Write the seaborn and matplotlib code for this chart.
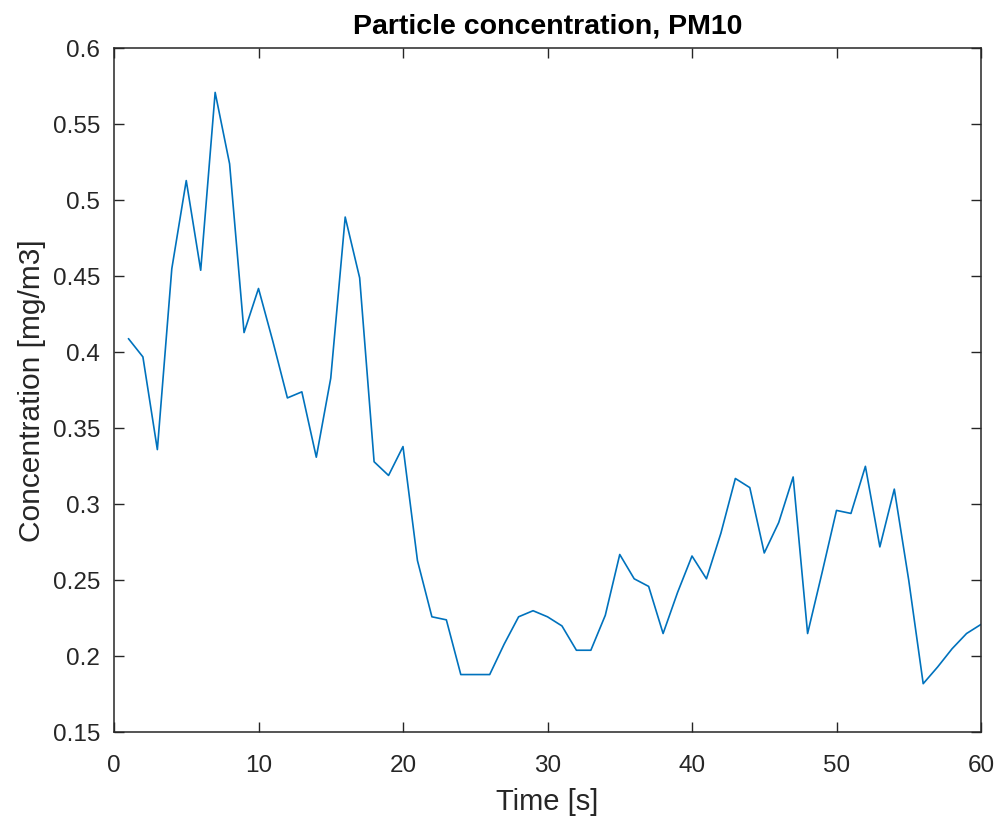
import matplotlib
matplotlib.use("Agg")
import matplotlib.pyplot as plt
import seaborn as sns
import pandas as pd
from matplotlib.ticker import FuncFormatter

time_s = list(range(1, 61))
concentration = [
    0.409, 0.397, 0.336, 0.455, 0.513, 0.454, 0.571, 0.524, 0.413, 0.442,
    0.407, 0.370, 0.374, 0.331, 0.383, 0.489, 0.449, 0.328, 0.319, 0.338,
    0.263, 0.226, 0.224, 0.188, 0.188, 0.188, 0.208, 0.226, 0.230, 0.226,
    0.220, 0.204, 0.204, 0.227, 0.267, 0.251, 0.246, 0.215, 0.242, 0.266,
    0.251, 0.281, 0.317, 0.311, 0.268, 0.288, 0.318, 0.215, 0.255, 0.296,
    0.294, 0.325, 0.272, 0.310, 0.250, 0.182, 0.193, 0.205, 0.215, 0.221,
]
x_ticks = [0, 10, 20, 30, 40, 50, 60]
y_ticks = [0.15, 0.2, 0.25, 0.3, 0.35, 0.4, 0.45, 0.5, 0.55, 0.6]

df = pd.DataFrame({"Time": time_s, "Concentration": concentration})

sns.set_theme(style="white")
plt.rcParams['font.family'] = ['Liberation Sans', 'DejaVu Sans']

fig = plt.figure(figsize=(10, 8.22), dpi=100)
ax = fig.add_axes([0.114, 0.1091, 0.867, 0.8321])

sns.lineplot(data=df, x="Time", y="Concentration", ax=ax,
             color="#0072BD", linewidth=1.2)

ax.set_xlim(0, 60)
ax.set_ylim(0.15, 0.6)
ax.set_xticks(x_ticks)
ax.set_yticks(y_ticks)
ax.yaxis.set_major_formatter(FuncFormatter(lambda v, p: f"{v:g}"))

axis_col = "#262626"
for s in ax.spines.values():
    s.set_visible(True)
    s.set_color(axis_col)
    s.set_linewidth(1.1)

ax.tick_params(direction="in", length=7, width=1, color=axis_col,
               labelsize=17.5, labelcolor=axis_col,
               top=True, right=True, bottom=True, left=True)
ax.tick_params(axis="x", pad=16)
ax.tick_params(axis="y", pad=10)

ax.set_title("Particle concentration, PM10", fontsize=20.5, fontweight="bold",
             color="black", pad=11)
ax.set_xlabel("Time [s]", fontsize=21, color=axis_col, labelpad=8)
ax.set_ylabel("Concentration [mg/m3]", fontsize=21.5, color=axis_col, labelpad=5)

fig.savefig("out.png", dpi=100, facecolor="white")
